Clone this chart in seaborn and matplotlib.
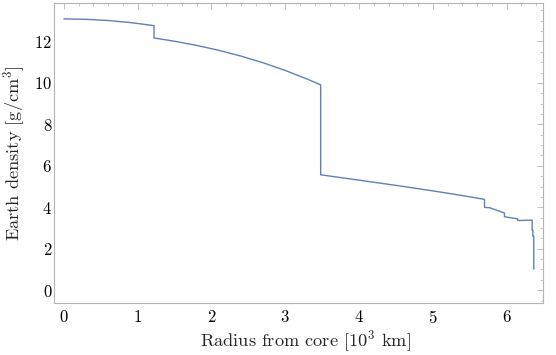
import matplotlib
matplotlib.use("Agg")
import matplotlib.pyplot as plt
from matplotlib.ticker import MultipleLocator
import seaborn as sns
import pandas as pd

# PREM-style density profile (radius in 10^3 km, density in g/cm^3)
radius = [0.0, 0.3, 0.6, 0.9, 1.2215, 1.2215, 1.5, 1.8, 2.1, 2.4, 2.7, 3.0, 3.3, 3.48,
          3.48, 3.9, 4.3, 4.7, 5.1, 5.4, 5.701, 5.701, 5.771, 5.971, 5.971, 6.151,
          6.151, 6.3466, 6.3466, 6.356, 6.356, 6.368, 6.368, 6.371]
density = [13.0885, 13.0689, 13.0101, 12.9121, 12.7636, 12.1663, 12.0099, 11.8090,
           11.5712, 11.2930, 10.9709, 10.6015, 10.1814, 9.9035, 5.5665, 5.3571,
           5.1567, 4.9508, 4.7346, 4.5632, 4.3808, 3.9921, 3.9758, 3.7239, 3.5432,
           3.4358, 3.3595, 3.3808, 2.9, 2.9, 2.6, 2.6, 1.02, 1.02]

x_ticks = [0, 1, 2, 3, 4, 5, 6]
y_ticks = [0, 2, 4, 6, 8, 10, 12]

sns.set_style("white")
plt.rcParams["font.family"] = ["cmr10", "DejaVu Serif"]
plt.rcParams["mathtext.fontset"] = "cm"
plt.rcParams["axes.formatter.use_mathtext"] = True

df = pd.DataFrame({"r": radius, "rho": density})

fig = plt.figure(figsize=(5.56, 3.55), dpi=100)
ax = fig.add_axes([0.0977, 0.1465, 0.8798, 0.8459])

sns.lineplot(data=df, x="r", y="rho", sort=False, estimator=None, ax=ax,
             color="#5E81B5", linewidth=1.0)

ax.set_xlim(-0.13, 6.50)
ax.set_ylim(-0.62, 13.87)
ax.set_xticks(x_ticks)
ax.set_yticks(y_ticks)
ax.xaxis.set_minor_locator(MultipleLocator(0.2))
ax.yaxis.set_minor_locator(MultipleLocator(0.5))

frame_col = "#b4b4b4"
for s in ax.spines.values():
    s.set_color(frame_col)
    s.set_linewidth(0.8)

ax.tick_params(axis="both", which="both", direction="in", top=True, right=True,
               color=frame_col, labelcolor="black", labelsize=12)
ax.tick_params(axis="y", which="both", pad=1.5)
ax.tick_params(axis="x", which="both", pad=4)
ax.tick_params(axis="both", which="major", length=4, width=0.6)
ax.tick_params(axis="both", which="minor", length=2, width=0.5)

ax.set_xlabel(r"Radius from core [10$^3$ km]", fontsize=13.2)
ax.set_ylabel(r"Earth density [g/cm$^3$]", fontsize=13.2)
ax.xaxis.set_label_coords(0.513, -0.085)
ax.yaxis.set_label_coords(-0.056, 0.5)

fig.savefig("out.png", dpi=100)
